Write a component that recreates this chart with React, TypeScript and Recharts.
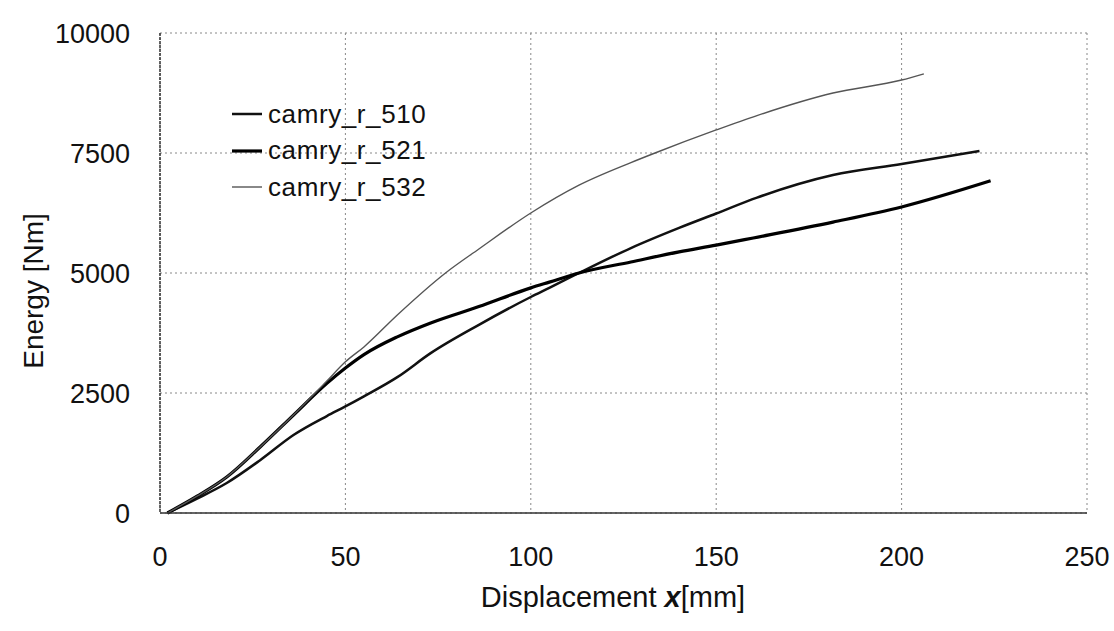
import { LineChart, Line, XAxis, YAxis, CartesianGrid, Legend, Label } from "recharts";

// displacement [mm] / energy [Nm]
const x510 = [2, 10, 18, 27, 36, 45, 50, 55, 64, 73, 86, 100, 105, 113, 127, 140, 150, 161, 181.5, 200, 221];
const y510 = [0, 300, 625, 1100, 1625, 2020, 2220, 2430, 2830, 3330, 3920, 4500, 4690, 5000, 5520, 5940, 6240, 6570, 7040, 7270, 7540];

const x521 = [2, 10, 18, 27, 36, 45, 50, 55, 64, 73, 86, 100, 105, 113, 127, 140, 150, 160, 181.5, 200, 224];
const y521 = [0, 350, 750, 1375, 2040, 2700, 3020, 3300, 3670, 3960, 4300, 4690, 4810, 5000, 5230, 5440, 5580, 5730, 6060, 6375, 6920];

const x532 = [2, 10, 18, 27, 36, 45, 50, 55, 64, 77, 86, 100, 113, 127, 133.5, 150, 161, 181.5, 200, 206];
const y532 = [0, 350, 750, 1375, 2040, 2750, 3150, 3460, 4125, 5000, 5500, 6250, 6830, 7300, 7500, 7980, 8280, 8750, 9020, 9150];

const xTicks = [0, 50, 100, 150, 200, 250];
const yTicks = [0, 2500, 5000, 7500, 10000];

const seriesNames = ["camry_r_510", "camry_r_521", "camry_r_532"];

const toPoints = (xs: number[], ys: number[]) => xs.map((x, i) => ({ x, y: ys[i] }));

const series = [
  { name: seriesNames[0], data: toPoints(x510, y510), color: "#111", width: 2.5 },
  { name: seriesNames[1], data: toPoints(x521, y521), color: "#000", width: 3.2 },
  { name: seriesNames[2], data: toPoints(x532, y532), color: "#555", width: 1.4 },
];

const FONT = "'Liberation Sans', Arial, sans-serif";

const LegendBox = () => (
  <div style={{ fontFamily: FONT, fontSize: 26, color: "#111" }}>
    {series.map((s) => (
      <div key={s.name} style={{ display: "flex", alignItems: "center", height: 36.5 }}>
        <svg width={30} height={10} style={{ marginRight: 6 }}>
          <line x1={0} y1={5} x2={30} y2={5} stroke={s.color} strokeWidth={s.width} />
        </svg>
        <span style={{ letterSpacing: 0.6 }}>{s.name}</span>
      </div>
    ))}
  </div>
);

const YTitle = () => (
  <text
    x={43}
    y={291}
    transform="rotate(-90 43 291)"
    textAnchor="middle"
    fontFamily={FONT}
    fontSize={28}
    fill="#111"
  >
    Energy [Nm]
  </text>
);

const XTitle = () => (
  <text x={613} y={607} textAnchor="middle" fontFamily={FONT} fontSize={29} fill="#111">
    Displacement{" "}
    <tspan fontStyle="italic" fontWeight="bold">
      x
    </tspan>
    [mm]
  </text>
);

export default function App() {
  return (
    <div style={{ position: "absolute", left: 0, top: 0 }}>
      <LineChart width={1114} height={631} margin={{ top: 33, right: 27, bottom: 0, left: 0 }}>
        <CartesianGrid stroke="#888" strokeDasharray="2 3" horizontalValues={yTicks} verticalValues={xTicks} />
        <XAxis
          type="number"
          dataKey="x"
          domain={[0, 250]}
          ticks={xTicks}
          allowDataOverflow
          height={118}
          tickLine={false}
          tickSize={6}
          tickMargin={28}
          axisLine={{ stroke: "#333", strokeWidth: 1.5 }}
          tick={{ fontSize: 27, fill: "#111", fontFamily: FONT }}
        >
          <Label content={XTitle} />
        </XAxis>
        <YAxis
          type="number"
          dataKey="y"
          domain={[0, 10000]}
          ticks={yTicks}
          width={160}
          tickLine={false}
          tickSize={6}
          tickMargin={24}
          axisLine={{ stroke: "#333", strokeWidth: 1.5, strokeDasharray: "3 1" }}
          tick={{ fontSize: 27, fill: "#111", fontFamily: FONT }}
        >
          <Label content={YTitle} />
        </YAxis>
        <Legend
          layout="horizontal"
          verticalAlign="middle"
          align="center"
          content={LegendBox}
          wrapperStyle={{ left: 232, top: 96, width: 260 }}
        />
        {series.map((s) => (
          <Line
            key={s.name}
            name={s.name}
            data={s.data}
            dataKey="y"
            type="monotone"
            stroke={s.color}
            strokeWidth={s.width}
            dot={false}
            activeDot={false}
            isAnimationActive={false}
          />
        ))}
      </LineChart>
    </div>
  );
}
